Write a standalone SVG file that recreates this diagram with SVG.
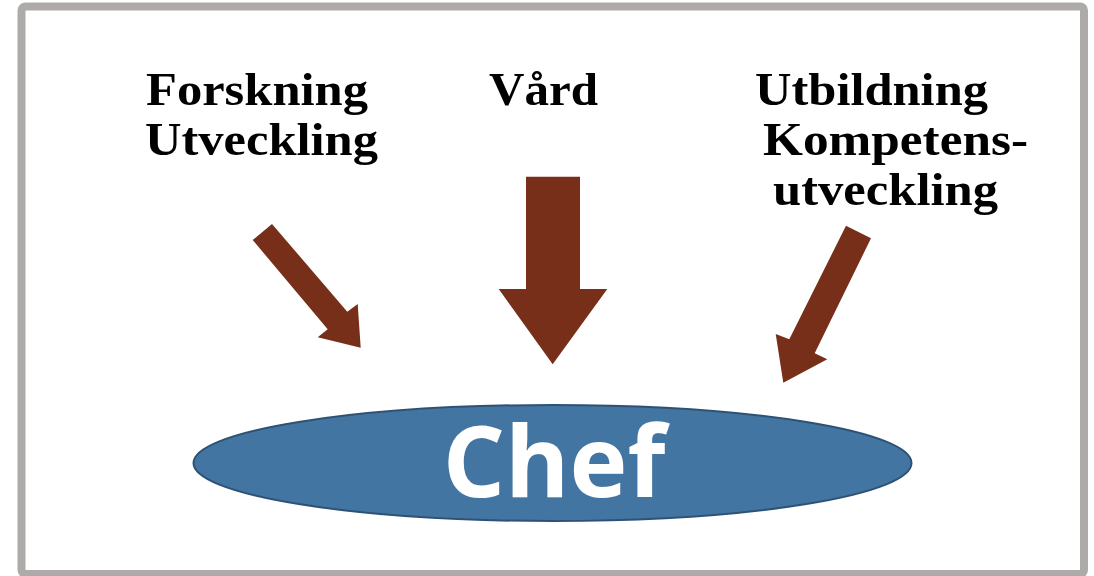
<svg xmlns="http://www.w3.org/2000/svg" width="1094" height="576" viewBox="0 0 1094 576">
<style>
.lbl{font-family:"Liberation Serif","Times New Roman",serif;font-weight:bold;font-size:47px;fill:#000}
.arr{fill:#772F1A}
.chef{font-family:"Open Sans","Noto Sans",sans-serif;font-weight:bold;font-size:98px;fill:#fff}
</style>
<rect x="0" y="0" width="1094" height="576" fill="#fff"/>
<rect id="frame" x="21.5" y="6.5" width="1062.5" height="567.5" rx="4" fill="#fff" stroke="#AFAAAA" stroke-width="8"/>
<g id="connectors">
<polygon class="arr" points="252.7,240 272,224 347.3,311.7 357.7,304 360.7,347.7 317.7,337.3 327.7,329.3"/>
<polygon class="arr" points="526,176.7 580,176.7 580,289 607.3,289 552.7,364.3 498.7,289 526,289"/>
<polygon class="arr" points="846,225.7 871,238.3 814.7,353.3 827.3,359.3 783.3,382.7 775.7,334 789.3,339.3"/>
</g>
<g id="node-forskning">
<text class="lbl" x="146" y="105" textLength="222" lengthAdjust="spacingAndGlyphs">Forskning</text>
<text class="lbl" x="145" y="155" textLength="233" lengthAdjust="spacingAndGlyphs">Utveckling</text>
</g>
<g id="node-vard">
<text class="lbl" x="489" y="105" textLength="109" lengthAdjust="spacingAndGlyphs">Vård</text>
</g>
<g id="node-utbildning">
<text class="lbl" x="755" y="105" textLength="233" lengthAdjust="spacingAndGlyphs">Utbildning</text>
<text class="lbl" x="763" y="155" textLength="265" lengthAdjust="spacingAndGlyphs">Kompetens-</text>
<text class="lbl" x="773" y="205" textLength="225" lengthAdjust="spacingAndGlyphs">utveckling</text>
</g>
<g id="node-chef">
<ellipse cx="552.5" cy="463" rx="359" ry="58" fill="#4275A2" stroke="#2E5275" stroke-width="2"/>
<text class="chef" x="554" y="497" text-anchor="middle">Chef</text>
</g>
</svg>
